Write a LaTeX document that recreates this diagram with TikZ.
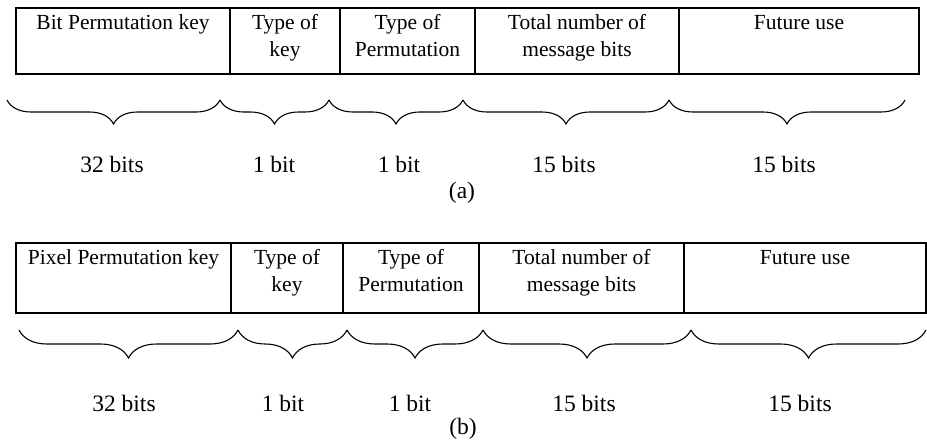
\documentclass[tikz,border=0pt]{standalone}
\usepackage{fontspec}
\setmainfont{Liberation Serif}
\usetikzlibrary{decorations.pathreplacing}
\begin{document}
\begin{tikzpicture}[x=1pt,y=-1pt,
  cell/.style={draw, line width=1.1pt, inner sep=0pt, outer sep=0pt, anchor=north west},
  celltxt/.style={anchor=north, inner sep=0pt, align=center, yshift=-2pt, font=\fontsize{21.5}{27}\selectfont},
  lbl/.style={anchor=base, inner sep=0pt, font=\fontsize{23.5}{28}\selectfont},
  brca/.style={decorate, decoration={brace, mirror, amplitude=24pt}, line width=1.1pt},
  brcb/.style={decorate, decoration={brace, mirror, amplitude=28pt}, line width=1.1pt}]
\useasboundingbox (0,0) rectangle (927,442);

% ---------- panel (a) ----------
\node[cell, minimum width=214pt, minimum height=66pt] (a1) at (16,8) {};
\node[cell, minimum width=110pt, minimum height=66pt] (a2) at (230,8) {};
\node[cell, minimum width=135pt, minimum height=66pt] (a3) at (340,8) {};
\node[cell, minimum width=204pt, minimum height=66pt] (a4) at (475,8) {};
\node[cell, minimum width=240pt, minimum height=66pt] (a5) at (679,8) {};
\node[celltxt] (ta1) at (a1.north) {\strut Bit Permutation key};
\node[celltxt] (ta2) at (a2.north) {\strut Type of\\key};
\node[celltxt] (ta3) at (a3.north) {\strut Type of\\Permutation};
\node[celltxt] (ta4) at (a4.north) {\strut Total number of\\message bits};
\node[celltxt] (ta5) at (a5.north) {\strut Future use};

\coordinate (ba0) at (7,100);
\coordinate (ba1) at (220,100);
\coordinate (ba2) at (329,100);
\coordinate (ba3) at (463,100);
\coordinate (ba4) at (669,100);
\coordinate (ba5) at (905,100);
\draw[brca] (ba0) -- (ba1);
\draw[brca] (ba1) -- (ba2);
\draw[brca] (ba2) -- (ba3);
\draw[brca] (ba3) -- (ba4);
\draw[brca] (ba4) -- (ba5);

\node[lbl] (la1) at (112,172) {32 bits};
\node[lbl] (la2) at (274,172) {1 bit};
\node[lbl] (la3) at (399,172) {1 bit};
\node[lbl] (la4) at (564,172) {15 bits};
\node[lbl] (la5) at (784,172) {15 bits};
\node[lbl] (capa) at (462,198) {(a)};

% ---------- panel (b) ----------
\node[cell, minimum width=215pt, minimum height=70pt] (b1) at (16,243) {};
\node[cell, minimum width=112pt, minimum height=70pt] (b2) at (231,243) {};
\node[cell, minimum width=136pt, minimum height=70pt] (b3) at (343,243) {};
\node[cell, minimum width=205pt, minimum height=70pt] (b4) at (479,243) {};
\node[cell, minimum width=242pt, minimum height=70pt] (b5) at (684,243) {};
\node[celltxt] (tb1) at (b1.north) {\strut Pixel Permutation key};
\node[celltxt] (tb2) at (b2.north) {\strut Type of\\key};
\node[celltxt] (tb3) at (b3.north) {\strut Type of\\Permutation};
\node[celltxt] (tb4) at (b4.north) {\strut Total number of\\message bits};
\node[celltxt] (tb5) at (b5.north) {\strut Future use};

\coordinate (bb0) at (19,330);
\coordinate (bb1) at (238,330);
\coordinate (bb2) at (347,330);
\coordinate (bb3) at (483,330);
\coordinate (bb4) at (691,330);
\coordinate (bb5) at (926,330);
\draw[brcb] (bb0) -- (bb1);
\draw[brcb] (bb1) -- (bb2);
\draw[brcb] (bb2) -- (bb3);
\draw[brcb] (bb3) -- (bb4);
\draw[brcb] (bb4) -- (bb5);

\node[lbl] (lb1) at (124,411) {32 bits};
\node[lbl] (lb2) at (283,411) {1 bit};
\node[lbl] (lb3) at (410,411) {1 bit};
\node[lbl] (lb4) at (584,411) {15 bits};
\node[lbl] (lb5) at (800,411) {15 bits};
\node[lbl] (capb) at (463,434) {(b)};
\end{tikzpicture}
\end{document}
